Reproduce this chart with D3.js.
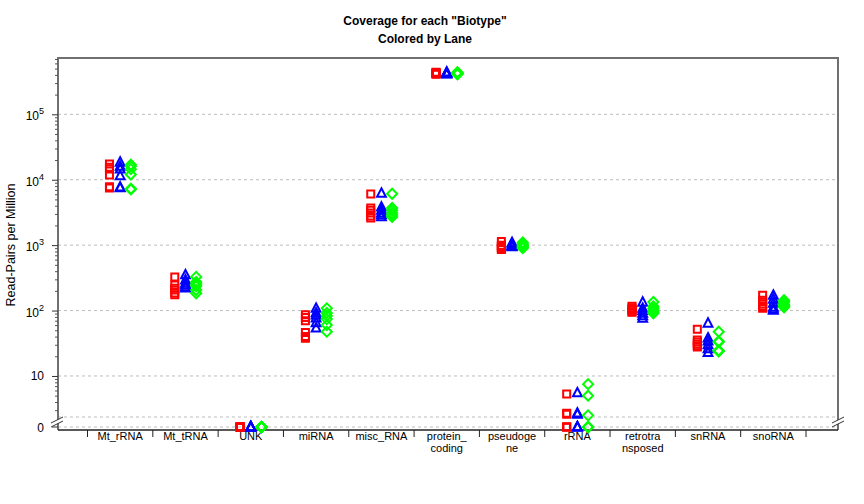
<!DOCTYPE html>
<html>
<head>
<meta charset="utf-8">
<script src="https://cdn.jsdelivr.net/npm/d3@7"></script>
<style>
  html, body { margin: 0; padding: 0; background: #fff; }
  svg { display: block; font-family: "Liberation Sans", Arial, sans-serif; }
</style>
</head>
<body>
<svg id="chart" width="864" height="504"></svg>
<script>
// ---------------- data ----------------
const categories = ["Mt_rRNA", "Mt_tRNA", "UNK", "miRNA", "misc_RNA", "protein_coding",
  "pseudogene", "rRNA", "retrotransposed", "snRNA", "snoRNA"];
const categoryLabels = [["Mt_rRNA"], ["Mt_tRNA"], ["UNK"], ["miRNA"], ["misc_RNA"],
  ["protein_", "coding"], ["pseudoge", "ne"], ["rRNA"], ["retrotra", "nsposed"], ["snRNA"], ["snoRNA"]];
const lanes = ["Lane1", "Lane2", "Lane3"];
const laneColors = ["#FF0000", "#0000FF", "#00FF00"];
const laneShapes = ["square", "triangle", "diamond"];

// values per category (same order as categories), several samples per lane
const lane1Values = [
  [17400, 15500, 14600, 11800, 7800, 7500],
  [327, 245, 220, 206, 185, 174],
  [0, 0, 0, 0, 0, 0],
  [86, 78, 70, 46, 40, 37.7],
  [6070, 3700, 3400, 3100, 2800, 2600],
  [440000, 432000, 425000, 420000, 415000, 410000],
  [1135, 1000, 950, 910, 880, 860],
  [5.3, 2.7, 2.6, 0, 0, 0],
  [116, 110, 105, 101, 96, 94],
  [51.8, 35.5, 33, 30.8, 29, 27.7],
  [171, 144, 135, 125, 115, 108]
];
const lane2Values = [
  [18500, 16000, 14500, 11500, 7700, 7500],
  [350, 293, 260, 245, 230, 220],
  [0, 0, 0, 0, 0, 0],
  [108, 92, 85, 77, 65, 54],
  [6200, 3800, 3400, 3100, 2900, 2700],
  [440000, 432000, 425000, 420000, 415000, 410000],
  [1090, 1050, 1000, 980, 960, 940],
  [5.5, 2.7, 2.6, 0, 0, 0],
  [134, 108, 100, 91, 83, 76],
  [64, 38, 34, 30, 26, 22.7],
  [171, 149, 129, 112, 105, 101]
];
const lane3Values = [
  [17000, 16000, 14500, 12000, 7300, 7100],
  [327, 274, 255, 237, 206, 184],
  [0, 0, 0, 0, 0, 0],
  [108, 92, 83, 74, 60, 47.5],
  [6100, 3700, 3400, 3100, 2900, 2700],
  [440000, 432000, 425000, 420000, 415000, 410000],
  [1100, 1040, 1000, 960, 930, 900],
  [7.5, 5, 2.5, 0, 0, 0],
  [135, 116, 108, 101, 95, 91],
  [47.5, 34, 33, 24.5, 24, 23.8],
  [144, 135, 125, 120, 116, 112]
];
const laneValues = [lane1Values, lane2Values, lane3Values];

const majorTicks = [10, 100, 1000, 10000, 100000];
const majorTickLabels = [["10", ""], ["10", "2"], ["10", "3"], ["10", "4"], ["10", "5"]];
const titleLines = ["Coverage for each \"Biotype\"", "Colored by Lane"];
const yTitle = "Read-Pairs per Million";

// ---------------- layout ----------------
const frame = { left: 58, right: 838, top: 58, bottom: 430 };
const logBottomY = 417;   // lower end of log section
const zeroY = 427;        // position of zero values
const logMin = 2.36, logMax = 725500;

const svg = d3.select("#chart");

const x = d3.scaleBand().domain(categories).range([87.5, 806]).padding(0);
const laneX = d3.scalePoint().domain(lanes).range([-10.7, 10.7]);
const yLog = d3.scaleLog().domain([logMin, logMax]).range([logBottomY, frame.top]);
const y = v => (v <= 0 ? zeroY : yLog(v));

// gridlines
const gridVals = majorTicks.map(v => yLog(v)).concat([logBottomY, zeroY]);
svg.append("g").selectAll("line").data(gridVals).join("line")
  .attr("x1", frame.left).attr("x2", frame.right)
  .attr("y1", d => d).attr("y2", d => d)
  .attr("stroke", "#bdbdbd").attr("stroke-width", 1).attr("stroke-dasharray", "3,3");

// frame
svg.append("path")
  .attr("d", `M${frame.left},${frame.bottom}V${frame.top}H${frame.right}V${frame.bottom}`)
  .attr("fill", "none").attr("stroke", "#707070").attr("stroke-width", 2);
svg.append("line")
  .attr("x1", frame.left).attr("x2", frame.right)
  .attr("y1", frame.bottom).attr("y2", frame.bottom)
  .attr("stroke", "#222").attr("stroke-width", 1.5);

// y axis (left) using d3 axis for major + minor ticks
const minorTicks = [];
for (let e = 0; e <= 5; e++) {
  for (let m = 2; m <= 9; m++) {
    const v = m * Math.pow(10, e);
    if (v > logMin && v < logMax) minorTicks.push(v);
  }
}
const yAxisMinor = d3.axisLeft(yLog).tickValues(minorTicks).tickSize(3).tickFormat("");
svg.append("g").attr("transform", `translate(${frame.left},0)`).call(yAxisMinor)
  .call(g => g.select(".domain").remove())
  .call(g => g.selectAll("line").attr("stroke", "#555"));
const yAxisMajor = d3.axisLeft(yLog).tickValues(majorTicks).tickSize(6).tickFormat("");
svg.append("g").attr("transform", `translate(${frame.left},0)`).call(yAxisMajor)
  .call(g => g.select(".domain").remove())
  .call(g => g.selectAll("line").attr("stroke", "#333"));
// zero tick
svg.append("line").attr("x1", frame.left - 6).attr("x2", frame.left)
  .attr("y1", zeroY).attr("y2", zeroY).attr("stroke", "#333");

// y tick labels
const yLabG = svg.append("g").attr("font-size", 12).attr("fill", "#000");
majorTicks.forEach((v, i) => {
  const t = yLabG.append("text")
    .attr("x", 44).attr("y", yLog(v) + (majorTickLabels[i][1] ? 6 : 4.5))
    .attr("text-anchor", "end");
  t.append("tspan").text(majorTickLabels[i][0]);
  if (majorTickLabels[i][1]) {
    t.append("tspan").attr("dy", -6).attr("font-size", 9).text(majorTickLabels[i][1]);
  }
});
yLabG.append("text").attr("x", 44).attr("y", zeroY + 4.5).attr("text-anchor", "end").text("0");

// axis break marks
function breakMark(cx, cy) {
  const g = svg.append("g");
  g.append("path")
    .attr("d", `M${cx - 6},${cy + 1}L${cx + 6},${cy - 5}L${cx + 6},${cy - 1}L${cx - 6},${cy + 5}Z`)
    .attr("fill", "#fff");
  [0, 4].forEach(o => {
    g.append("line")
      .attr("x1", cx - 6).attr("y1", cy + 1 + o)
      .attr("x2", cx + 6).attr("y2", cy - 5 + o)
      .attr("stroke", "#333").attr("stroke-width", 1);
  });
}
breakMark(frame.left - 1, 422);
breakMark(frame.right, 422);

// x axis ticks at band boundaries
const boundaries = categories.map(c => x(c)).concat([x.range()[1]]);
svg.append("g").selectAll("line").data(boundaries).join("line")
  .attr("x1", d => d).attr("x2", d => d)
  .attr("y1", frame.bottom).attr("y2", frame.bottom + 7)
  .attr("stroke", "#222").attr("stroke-width", 1);

// x labels
const xLabG = svg.append("g").attr("font-size", 11).attr("fill", "#000").attr("text-anchor", "middle");
categories.forEach((c, i) => {
  categoryLabels[i].forEach((line, j) => {
    xLabG.append("text")
      .attr("x", x(c) + x.bandwidth() / 2)
      .attr("y", 440 + j * 11.5)
      .text(line);
  });
});

// markers
const shapePath = {
  square: "M-3.5,-3.5H3.5V3.5H-3.5Z",
  triangle: "M0,-5L4.4,3.4H-4.4Z",
  diamond: "M0,-5L5,0L0,5L-5,0Z"
};
const points = [];
lanes.forEach((lane, li) => {
  categories.forEach((c, ci) => {
    laneValues[li][ci].forEach(v => points.push({ lane, li, c, v }));
  });
});
svg.append("g").selectAll("path").data(points).join("path")
  .attr("transform", d => `translate(${x(d.c) + x.bandwidth() / 2 + laneX(d.lane)},${y(d.v)})`)
  .attr("d", d => shapePath[laneShapes[d.li]])
  .attr("fill", "none")
  .attr("stroke", d => laneColors[d.li])
  .attr("stroke-width", 2);

// titles
const tG = svg.append("g").attr("font-size", 12).attr("font-weight", "bold").attr("text-anchor", "middle");
titleLines.forEach((t, i) => {
  tG.append("text").attr("x", 425).attr("y", 25 + i * 18).text(t);
});

svg.append("text")
  .attr("transform", "translate(15,245) rotate(-90)")
  .attr("text-anchor", "middle").attr("font-size", 12.5)
  .text(yTitle);
</script>
</body>
</html>
